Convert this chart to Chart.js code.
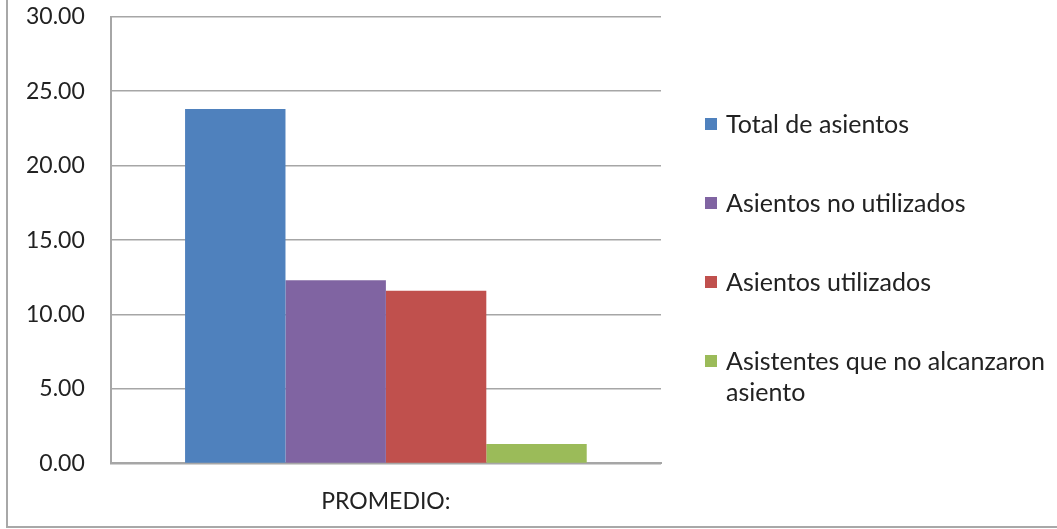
<!DOCTYPE html>
<html>
<head>
<meta charset="utf-8">
<script src="https://cdn.jsdelivr.net/npm/chart.js@4"></script>
<style>
	html, body { margin: 0; padding: 0; background: #fff; }
	#wrap { position: relative; width: 1057px; height: 529px; overflow: hidden; }
	#promedio { position: absolute; left: 0; top: -23px; }
	#frame {
		position: absolute; left: 6px; top: 0; right: 0; bottom: 1px;
		border-left: 2px solid #a8a8a8; border-bottom: 2px solid #a8a8a8;
		pointer-events: none;
	}
	#legend {
		position: absolute; left: 705px; top: 108px;
		font-family: Lato, 'Noto Sans', sans-serif; font-size: 25px; color: #222;
	}
	.item { display: flex; align-items: flex-start; line-height: 31px; margin-bottom: 48px; }
	.box { width: 12px; height: 12px; margin-top: 10px; margin-right: 9px; flex: none; }
	.text { width: 326px; }
</style>
</head>
<body>
<div id="wrap">
	<canvas id="promedio" width="1057" height="559"></canvas>
	<div id="legend"></div>
	<div id="frame"></div>
</div>
<script>
const categories = ['PROMEDIO:']
const seriesNames = ['Total de asientos', 'Asientos no utilizados', 'Asientos utilizados', 'Asistentes que no alcanzaron asiento']
const seriesValues = [23.8, 12.3, 11.6, 1.3]
const seriesColors = ['#4F81BD', '#8064A2', '#C0504D', '#9BBB59']
const yMin = 0
const yMax = 30
const yStep = 5

const gridColor = '#a6a6a6'
const font = { family: 'Lato, "Noto Sans", sans-serif', size: 23 }

// one dataset per series, all in the single category
const datasets = seriesNames.map((name, i) => ({
	label: name,
	data: [seriesValues[i]],
	backgroundColor: seriesColors[i],
	borderWidth: 0,
	barPercentage: 1,
	categoryPercentage: 0.73,
}))

new Chart(document.getElementById('promedio'), {
	type: 'bar',
	data: { labels: categories, datasets },
	options: {
		responsive: false,
		animation: false,
		layout: { padding: { left: 0, top: 0, right: 396, bottom: 5 } },
		plugins: {
			legend: { display: false },
			tooltip: { enabled: false },
		},
		scales: {
			x: {
				grid: { display: false },
				border: { display: true, color: gridColor, width: 2 },
				ticks: { color: '#222', font, padding: 16 },
			},
			y: {
				min: yMin,
				max: yMax,
				grid: { color: gridColor, lineWidth: 1.5, drawTicks: false },
				border: { display: true, color: gridColor, width: 2 },
				ticks: {
					stepSize: yStep,
					color: '#222',
					font,
					padding: 26,
					callback: v => v.toFixed(2),
				},
			},
		},
	},
})

// legend drawn beside the plot, text wraps like the original
const legend = document.getElementById('legend')
seriesNames.forEach((name, i) => {
	const item = document.createElement('div')
	item.className = 'item'
	const box = document.createElement('div')
	box.className = 'box'
	box.style.background = seriesColors[i]
	const text = document.createElement('div')
	text.className = 'text'
	text.textContent = name
	item.appendChild(box)
	item.appendChild(text)
	legend.appendChild(item)
})
</script>
</body>
</html>
